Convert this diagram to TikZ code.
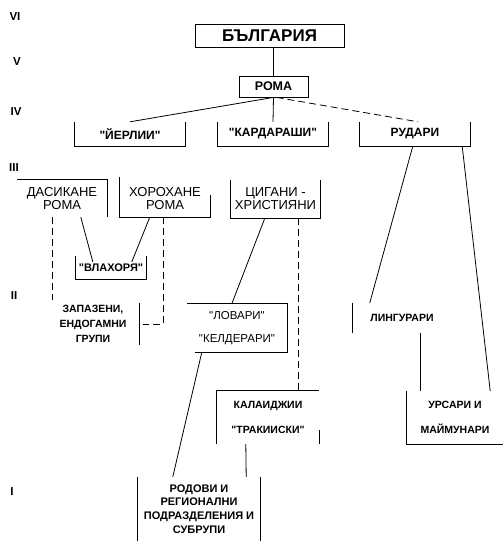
\documentclass[tikz,border=0pt]{standalone}
\usepackage{fontspec}
\newfontfamily\lsans{Liberation Sans}% no TeX ligatures: straight quotes stay straight
\usepackage{tikz}
\usetikzlibrary{calc}
\newcommand{\fsz}[1]{\fontsize{#1}{#1}\selectfont}
\tikzset{
	level label/.style={
		font=\fsz{11.5}\bfseries,
		inner sep=0pt
	},
	group box/.style 2 args={% width, height (px)
		rectangle,
		inner sep=0pt,
		align=center,
		minimum width=#1pt,
		minimum height=#2pt
	},
	frame/.style={line width=0.8pt},
	link/.style={line width=0.8pt},
	loose link/.style={
		link,
		dash pattern=on 7pt off 4pt
	}
}

\begin{document}
\lsans
\begin{tikzpicture}[
		x=1pt,y=-1pt,
		top group/.style={group box={110}{24},font=\fsz{12}\bfseries},
		tribe/.style={font=\fsz{13}},
		small group/.style={font=\fsz{10.5}\bfseries}
		]
		\useasboundingbox (0,0) rectangle (503,541);
		% levels
		\node[level label] (lvl6) at (15,17) {VI};
		\node[level label] (lvl5) at (17,62) {V};
		\node[level label] (lvl4) at (16,112) {IV};
		\node[level label] (lvl3) at (14,168) {III};
		\node[level label] (lvl2) at (14,296) {II};
		\node[level label] (lvl1) at (12,492) {I};
		% upper levels
		\node[group box={149}{23},draw,frame,font=\fsz{17}\bfseries] (bg) at (269.5,35.5) {БЪЛГАРИЯ};
		\node[group box={69}{21},draw,frame,font=\fsz{12.5}\bfseries] (roma) at (273.5,86.5) {РОМА};
		\node[top group] (yer) at (130,134) {"ЙЕРЛИИ"};
		\node[top group] (kard) at (273,134) {"КАРДАРАШИ"};
		\node[top group] (rud) at (415,134) {РУДАРИ};
		% level III
		\node[group box={90}{37},tribe] (dasik) at (62,198.5) {ДАСИКАНЕ\\РОМА};
		\node[group box={90}{37},tribe] (horo) at (165,198.5) {ХОРОХАНЕ\\РОМА};
		\node[group box={89}{38},tribe] (cig) at (275.5,199) {ЦИГАНИ -\\ХРИСТИЯНИ};
		% level II
		\node[group box={70}{23},font=\fsz{11}\bfseries] (vlah) at (111,267.5) {"ВЛАХОРЯ"};
		\node[group box={92}{42},font=\fsz{10.5}\bfseries\linespread{1.4}\selectfont] (zap) at (93,324) {ЗАПАЗЕНИ,\\ЕНДОГАМНИ\\ГРУПИ};
		\node[group box={100}{48},font=\fsz{11.5}] (lov) at (237,328) {"ЛОВАРИ"\\[12pt]"КЕЛДЕРАРИ"};
		\node[group box={98}{30},small group] (ling) at (402,318) {ЛИНГУРАРИ};
		\node[group box={102}{53},small group] (kal) at (268,417.5) {КАЛАИДЖИИ\\[14pt]"ТРАКИИСКИ"};
		\node[group box={96}{53},small group] (urs) at (455,417.5) {УРСАРИ И\\[14pt]МАЙМУНАРИ};
		% level I
		\node[group box={122}{64},font=\fsz{11}\bfseries\linespread{1.25}\selectfont] (rod) at (199,509) {РОДОВИ И\\РЕГИОНАЛНИ\\ПОДРАЗДЕЛЕНИЯ И\\СУБРУПИ};
		% open frames
		\foreach \grp in {yer,kard,rud,cig,vlah}
			\draw[frame] (\grp.north west) -- (\grp.south west) -- (\grp.south east) -- (\grp.north east);
		\draw[frame] (dasik.north west) -- (dasik.north east) -- (dasik.south east);
		\draw[frame] ($(horo.north west)+(0,-3)$) -- (horo.south west) -- (horo.south east) -- ($(horo.south east)+(0,-22)$);
		\draw[frame] (zap.north east) -- (zap.south east);
		\draw[frame] (lov.north west) -- (lov.north east) -- (lov.south east) -- ($(lov.south west)+(8,0)$);
		\draw[frame] (kal.south west) -- (kal.north west) -- (kal.north east);
		\draw[frame] ($(kal.south east)+(0,-14)$) -- (kal.south east);
		\draw[frame] (ling.north west) -- (ling.south west);
		\draw[frame] (urs.north west) -- (urs.south west) -- (urs.south east);
		\draw[frame] (rod.north west) -- (rod.south west);
		\draw[frame] (rod.north east) -- (rod.south east);
		% connectors
		\draw[link] (bg.south -| roma.north) -- (roma.north);
		\draw[link] (roma.south) -- (yer.north);
		\draw[link] (roma.south) -- (kard.north);
		\draw[loose link] ($(roma.south)+(3,0)$) -- ($(rud.north)+(3,0)$);
		\draw[link] ($(rud.south west)+(53,0)$) -- ($(ling.north west)+(17,0)$);
		\draw[link] ($(rud.south east)+(-8,0)$) -- ($(urs.north east)+(-13,0)$);
		\draw[link] ($(dasik.south west)+(64,0)$) -- ($(vlah.north west)+(17,6)$);
		\draw[link] ($(horo.south west)+(30,0)$) -- ($(vlah.north west)+(56,6)$);
		\draw[loose link] ($(dasik.south west)+(36,0)$) -- ($(zap.north west)+(6,-3)$);
		\draw[loose link] ($(horo.south)+(-2,0)$) |- ($(zap.east)+(4,0)$);
		\draw[link] ($(cig.south west)+(34,0)$) -- ($(lov.north west)+(45,0)$);
		\draw[loose link] ($(cig.south east)+(-22,0)$) -- ($(kal.north east)+(-21,0)$);
		\draw[link] ($(lov.south west)+(15,0)$) -- ($(rod.north west)+(35,0)$);
		\draw[link] ($(kal.south west)+(29,0)$) -- ($(rod.north east)+(-14,0)$);
		\draw[link] ($(ling.south west)+(68,0)$) -- ($(urs.north west)+(14,0)$);
	\end{tikzpicture}
\end{document}
